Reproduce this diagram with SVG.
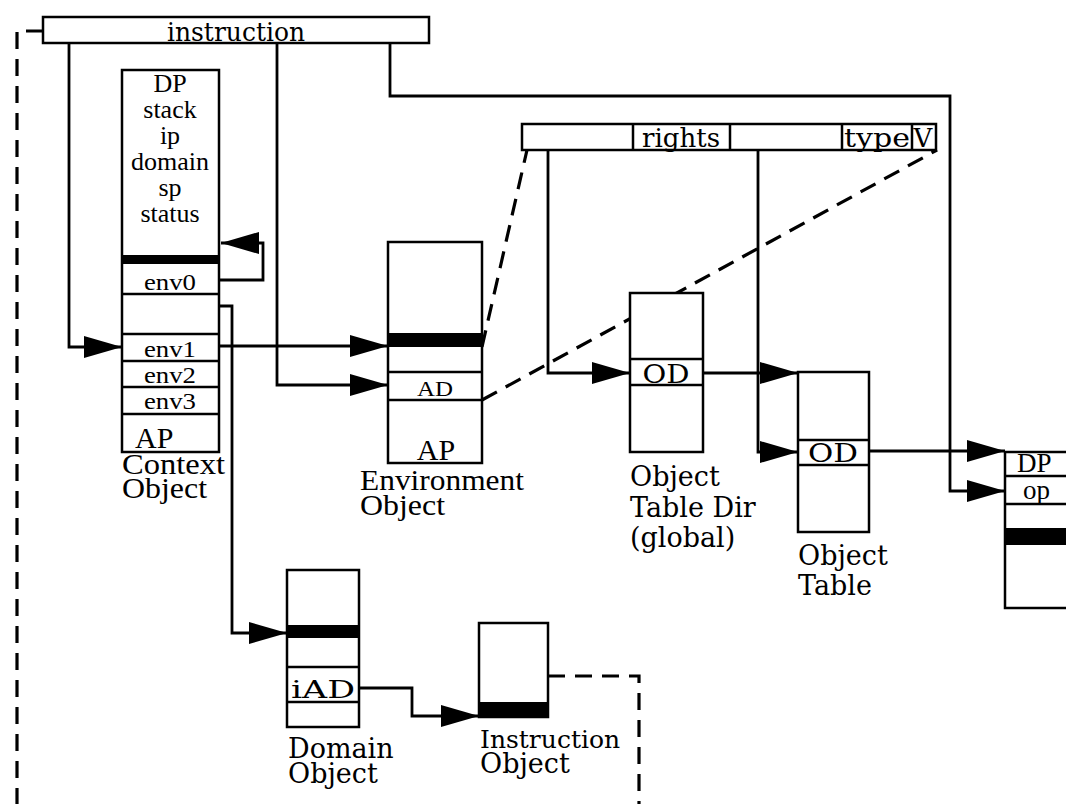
<svg xmlns="http://www.w3.org/2000/svg" width="1066" height="804" viewBox="0 0 1066 804">
<style>
.box{fill:#fff;stroke:#000;stroke-width:2.5}
.ln{fill:none;stroke:#000;stroke-width:2.5}
.bar{fill:#000}
.c{fill:none;stroke:#000;stroke-width:2.8;stroke-linejoin:miter}
.d{fill:none;stroke:#000;stroke-width:3.2;stroke-dasharray:17 10}
.ser{font-family:"Liberation Serif","Times New Roman",serif;fill:#000}
.dv{font-family:"DejaVu Serif",serif;fill:#000}
.m{text-anchor:middle}
</style>
<defs>
<marker id="ah" markerUnits="userSpaceOnUse" markerWidth="40" markerHeight="24" refX="38" refY="11" orient="auto">
<path d="M0,0 L38,11 L0,22 z" fill="#000"/>
</marker>
</defs>
<rect width="1066" height="804" fill="#fff"/>

<g id="connectors">
<path class="c" d="M69,43 V347 H122" marker-end="url(#ah)"/>
<path class="c" d="M277,43 V385 H388" marker-end="url(#ah)"/>
<path class="c" d="M390,43 V96 H950 V491 H1005" marker-end="url(#ah)"/>
<path class="c" d="M219,280 H263 V243 H221" marker-end="url(#ah)"/>
<path class="c" d="M219,306 H232 V633 H287" marker-end="url(#ah)"/>
<path class="c" d="M219,346 H388" marker-end="url(#ah)"/>
<path class="c" d="M548,150 V373 H630" marker-end="url(#ah)"/>
<path class="c" d="M703,373 H798" marker-end="url(#ah)"/>
<path class="c" d="M758,150 V452 H798" marker-end="url(#ah)"/>
<path class="c" d="M869,451 H1005" marker-end="url(#ah)"/>
<path class="c" d="M359,688 H412 V716 H479" marker-end="url(#ah)"/>
<path class="d" d="M482,347 L527,150"/>
<path class="d" d="M482,400 L937,150"/>
<path class="d" d="M43,31 H17 V804"/>
<path class="d" d="M548,676 H639 V804"/>
</g>

<g id="instruction-bar">
<rect class="box" x="43" y="17" width="386" height="26"/>
<text class="dv m" x="236" y="41" font-size="26" textLength="138" lengthAdjust="spacingAndGlyphs">instruction</text>
</g>

<g id="context-object">
<rect class="box" x="122" y="70" width="97" height="382"/>
<rect class="bar" x="122" y="255" width="97" height="9"/>
<path class="ln" d="M122,294 H219 M122,334 H219 M122,361 H219 M122,387 H219 M122,414 H219"/>
<g class="ser m" font-size="26">
<text x="170" y="92">DP</text>
<text x="170" y="118">stack</text>
<text x="170" y="144">ip</text>
<text x="170" y="170">domain</text>
<text x="170" y="196">sp</text>
<text x="170" y="222">status</text>
</g>
<g class="ser m" font-size="23">
<text x="170" y="290" textLength="52" lengthAdjust="spacingAndGlyphs">env0</text>
<text x="170" y="357" textLength="52" lengthAdjust="spacingAndGlyphs">env1</text>
<text x="170" y="383" textLength="52" lengthAdjust="spacingAndGlyphs">env2</text>
<text x="170" y="409" textLength="52" lengthAdjust="spacingAndGlyphs">env3</text>
</g>
<text class="ser" x="135" y="448" font-size="30">AP</text>
<text class="ser" x="122" y="474" font-size="30" textLength="103" lengthAdjust="spacingAndGlyphs">Context</text>
<text class="ser" x="122" y="498" font-size="30" textLength="85" lengthAdjust="spacingAndGlyphs">Object</text>
</g>

<g id="environment-object">
<rect class="box" x="388" y="242" width="94" height="221"/>
<rect class="bar" x="388" y="333" width="94" height="14"/>
<path class="ln" d="M388,372 H482 M388,400 H482"/>
<text class="ser m" x="435" y="396" font-size="20" textLength="36" lengthAdjust="spacingAndGlyphs">AD</text>
<text class="ser m" x="436" y="460" font-size="30">AP</text>
<text class="ser" x="360" y="490" font-size="30" textLength="164" lengthAdjust="spacingAndGlyphs">Environment</text>
<text class="ser" x="360" y="515" font-size="30" textLength="85" lengthAdjust="spacingAndGlyphs">Object</text>
</g>

<g id="rights-bar">
<rect class="box" x="522" y="124" width="414" height="26"/>
<path class="ln" d="M633,124 V150 M730,124 V150 M842,124 V150 M912,124 V150"/>
<text class="dv m" x="681" y="147" font-size="26" textLength="78" lengthAdjust="spacingAndGlyphs">rights</text>
<text class="dv m" x="877" y="147" font-size="26" textLength="66" lengthAdjust="spacingAndGlyphs">type</text>
<text class="dv m" x="923" y="147" font-size="26">V</text>
</g>

<g id="object-table-dir">
<rect class="box" x="630" y="293" width="73" height="159"/>
<path class="ln" d="M630,359 H703 M630,385 H703"/>
<text class="dv m" x="666" y="383" font-size="26" textLength="47" lengthAdjust="spacingAndGlyphs">OD</text>
<text class="dv" x="630" y="486" font-size="27">Object</text>
<text class="dv" x="630" y="517" font-size="27">Table Dir</text>
<text class="dv" x="630" y="547" font-size="27">(global)</text>
</g>

<g id="object-table">
<rect class="box" x="798" y="372" width="71" height="160"/>
<path class="ln" d="M798,440 H869 M798,465 H869"/>
<text class="dv m" x="833" y="462" font-size="26" textLength="50" lengthAdjust="spacingAndGlyphs">OD</text>
<text class="dv" x="798" y="565" font-size="27">Object</text>
<text class="dv" x="798" y="595" font-size="27">Table</text>
</g>

<g id="dp-object">
<rect class="box" x="1005" y="452" width="70" height="156"/>
<path class="ln" d="M1005,476 H1066 M1005,504 H1066"/>
<rect class="bar" x="1005" y="528" width="61" height="17"/>
<text class="ser" x="1017" y="472" font-size="27">DP</text>
<text class="ser" x="1023" y="499" font-size="27">op</text>
</g>

<g id="domain-object">
<rect class="box" x="287" y="570" width="72" height="157"/>
<rect class="bar" x="287" y="625" width="72" height="13"/>
<path class="ln" d="M287,667 H359 M287,702 H359"/>
<text class="dv m" x="323" y="698" font-size="25" textLength="64" lengthAdjust="spacingAndGlyphs">iAD</text>
<text class="dv" x="288" y="758" font-size="27">Domain</text>
<text class="dv" x="288" y="783" font-size="27">Object</text>
</g>

<g id="instruction-object">
<rect class="box" x="479" y="623" width="69" height="94"/>
<rect class="bar" x="479" y="702" width="69" height="15"/>
<text class="dv" x="480" y="748" font-size="25">Instruction</text>
<text class="dv" x="480" y="773" font-size="27">Object</text>
</g>
</svg>
